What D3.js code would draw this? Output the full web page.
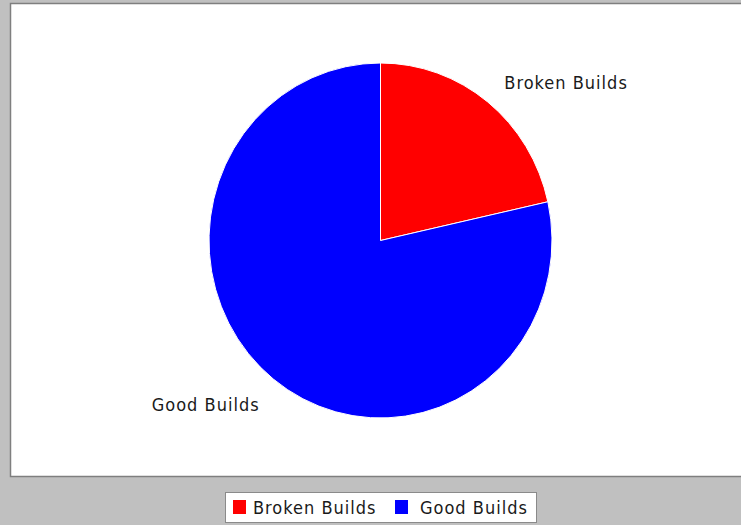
<!DOCTYPE html>
<html>
<head>
<meta charset="utf-8">
<script src="https://cdn.jsdelivr.net/npm/d3@7"></script>
<style>
  body { margin: 0; background: #c0c0c0; }
  svg { display: block; }
</style>
</head>
<body>
<svg width="741" height="525"></svg>
<script>
var categories = ["Broken Builds", "Good Builds"];
var values = [21.5, 78.5];
var colors = ["#ff0000", "#0000ff"];

var svg = d3.select("svg");
var fontFam = "'DejaVu Sans Condensed', 'DejaVu Sans', sans-serif";

// chart panel
svg.append("rect")
    .attr("x", 10.5).attr("y", 3.5)
    .attr("width", 760).attr("height", 473)
    .attr("fill", "#ffffff")
    .attr("stroke", "#7f7f7f")
    .attr("stroke-width", 1.5);

var cx = 380.5, cy = 240.5, rx = 171.5, ry = 177.5;

var data = categories.map(function(c, i) { return {name: c, value: values[i], color: colors[i]}; });

var pie = d3.pie().sort(null).value(function(d) { return d.value; });
var arcs = pie(data);

var arc = d3.arc().innerRadius(0).outerRadius(ry);

var g = svg.append("g")
    .attr("transform", "translate(" + cx + "," + cy + ") scale(" + (rx / ry) + ",1)");

g.selectAll("path")
    .data(arcs)
    .enter()
    .append("path")
    .attr("d", arc)
    .attr("fill", function(d) { return d.data.color; })
    .attr("stroke", "#ffffff")
    .attr("stroke-width", 1)
    .attr("vector-effect", "non-scaling-stroke");

// labels, placed out along the slice middle
var labelK = 1.155;
svg.append("g")
    .selectAll("text")
    .data(arcs)
    .enter()
    .append("text")
    .attr("x", function(d) {
        var a = (d.startAngle + d.endAngle) / 2;
        var x = cx + Math.sin(a) * rx * labelK;
        return Math.sin(a) >= 0 ? x : x + 3;
    })
    .attr("y", function(d) {
        var a = (d.startAngle + d.endAngle) / 2;
        var y = cy - Math.cos(a) * ry * labelK + 2;
        return Math.cos(a) >= 0 ? y : y + 2;
    })
    .attr("dy", "0.35em")
    .attr("text-anchor", function(d) {
        var a = (d.startAngle + d.endAngle) / 2;
        return Math.sin(a) >= 0 ? "start" : "end";
    })
    .attr("font-family", fontFam)
    .attr("font-size", "18px")
    .attr("letter-spacing", "1px")
    .attr("fill", "#1a1a1a")
    .text(function(d) { return d.data.name; });

// legend
var legend = svg.append("g");
legend.append("rect")
    .attr("x", 225.5).attr("y", 492.5)
    .attr("width", 311).attr("height", 30)
    .attr("fill", "#ffffff")
    .attr("stroke", "#8a8a8a")
    .attr("stroke-width", 1);

var lx = [233, 395];
var item = legend.selectAll("g.item")
    .data(data)
    .enter()
    .append("g")
    .attr("class", "item")
    .attr("transform", function(d, i) { return "translate(" + lx[i] + ",0)"; });

item.append("rect")
    .attr("x", 0).attr("y", 500)
    .attr("width", 13).attr("height", 14)
    .attr("fill", function(d) { return d.color; });

item.append("text")
    .attr("x", function(d, i) { return i == 0 ? 20 : 25; })
    .attr("y", 508)
    .attr("dy", "0.35em")
    .attr("font-family", fontFam)
    .attr("font-size", "18px")
    .attr("letter-spacing", "1px")
    .attr("fill", "#1a1a1a")
    .text(function(d) { return d.name; });
</script>
</body>
</html>
